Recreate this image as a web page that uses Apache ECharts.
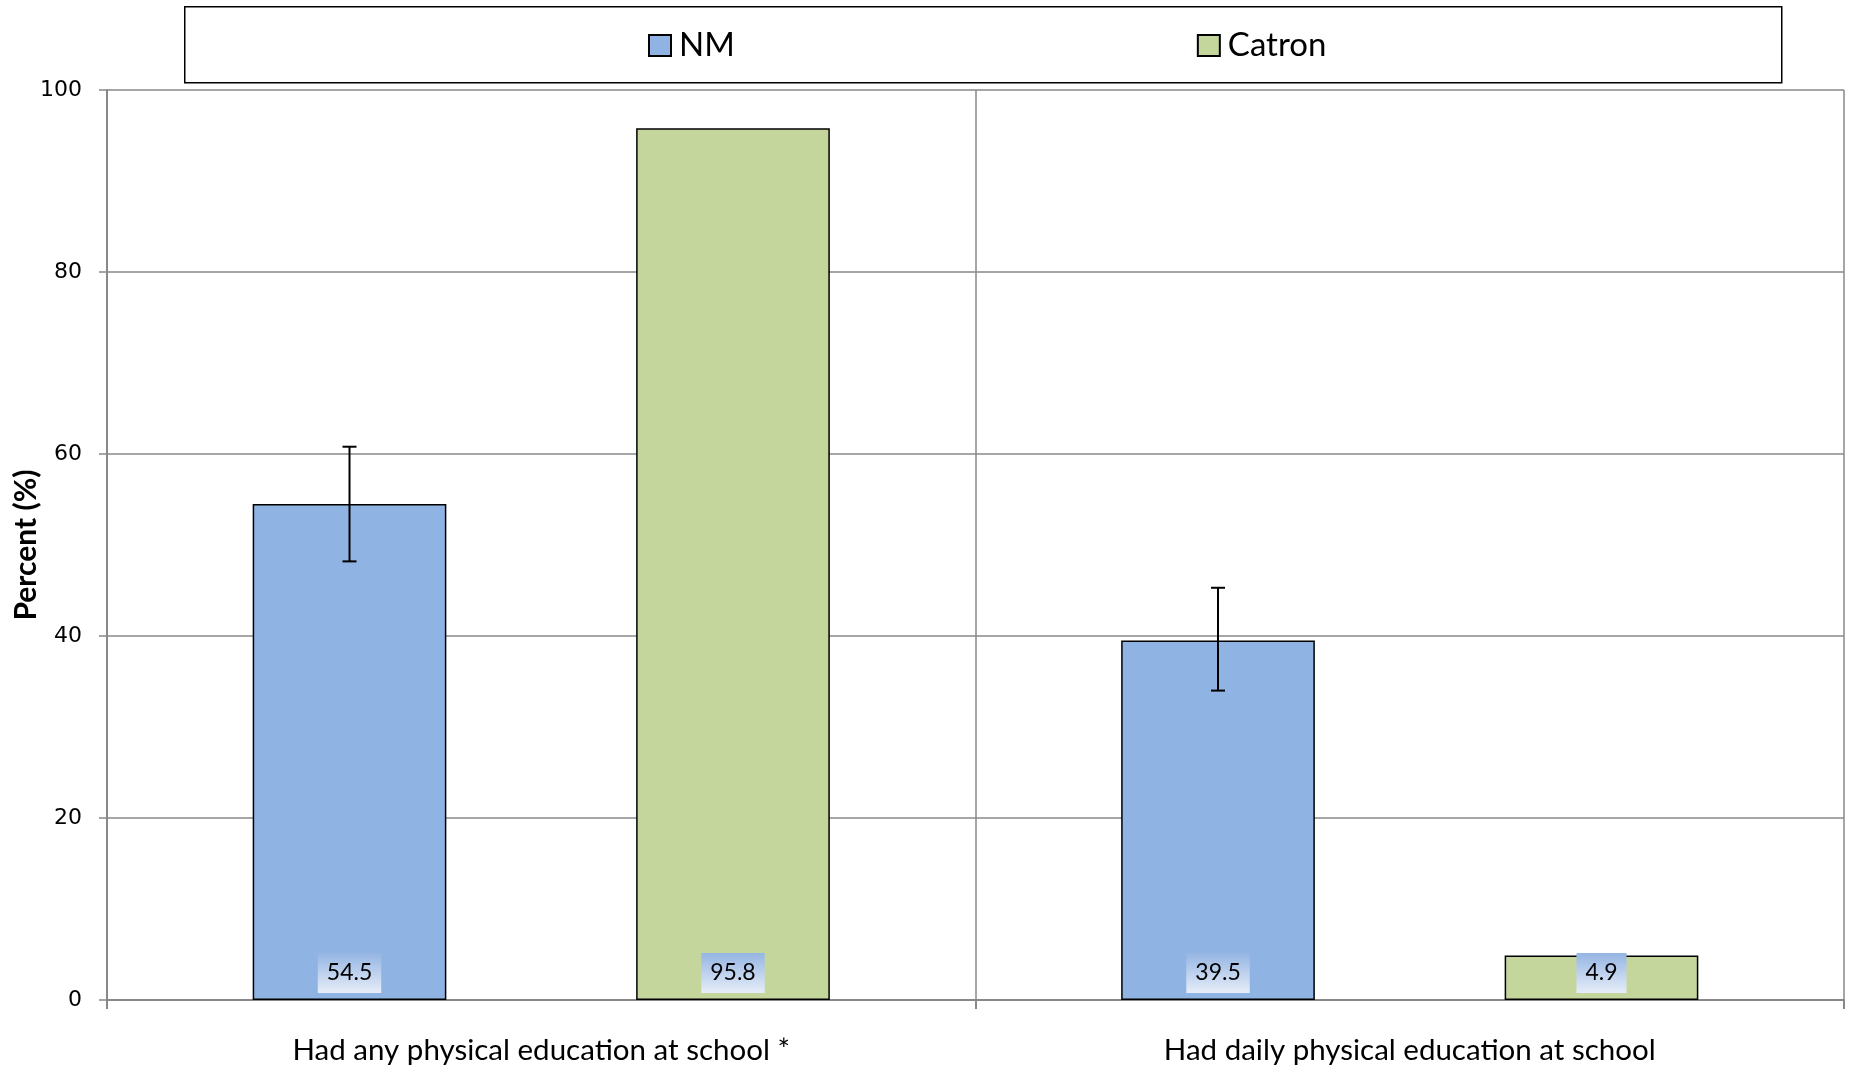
<!DOCTYPE html>
<html>
<head>
<meta charset="utf-8">
<script src="https://cdn.jsdelivr.net/npm/echarts@6/dist/echarts.min.js"></script>
<style>
html,body{margin:0;padding:0;background:#fff;}
#chart{width:1851px;height:1069px;}
</style>
</head>
<body>
<div id="chart"></div>
<script>
var categories = ['Had any physical education at school *', 'Had daily physical education at school'];
var seriesNames = ['NM', 'Catron'];
var nmValues = [54.5, 39.5];
var catronValues = [95.8, 4.9];
var nmErrLow = [48.2, 34.0];
var nmErrHigh = [60.8, 45.3];
var yTicks = [0, 20, 40, 60, 80, 100];

var FONT = 'Lato, "Open Sans", sans-serif';
var BAR_W = 0.223, BAR_GAP = 0.98;
var labelBg = new echarts.graphic.LinearGradient(0, 0, 0, 1, [
  {offset: 0, color: '#95b5e3'},
  {offset: 1, color: '#e6edf8'}
]);
var dataLabel = {
  show: true,
  position: 'insideBottom',
  distance: 7,
  color: '#000',
  fontFamily: FONT,
  fontSize: 23,
  lineHeight: 26,
  padding: [7, 9],
  backgroundColor: labelBg,
  formatter: function (p) { return p.value.toFixed(1); }
};

var errData = nmValues.map(function (v, i) { return [i, nmErrLow[i], nmErrHigh[i]]; });

var chart = echarts.init(document.getElementById('chart'), null, {renderer: 'canvas'});
chart.setOption({
  animation: false,
  backgroundColor: '#fff',
  graphic: [{
    type: 'rect', left: 184, top: 6, z: -1,
    shape: {width: 1597, height: 76},
    style: {fill: '#fff', stroke: '#000', lineWidth: 1.5}
  }],
  legend: {
    data: seriesNames,
    left: 643, top: 24,
    itemGap: 462,
    itemWidth: 22, itemHeight: 21,
    icon: 'rect',
    textStyle: {fontFamily: FONT, fontSize: 33, color: '#000', padding: [0, 0, 0, 3]}
  },
  grid: {left: 107, right: 7, top: 90, bottom: 69, containLabel: false, outerBoundsMode: 'none'},
  xAxis: {
    type: 'category',
    data: categories,
    axisLine: {show: true, lineStyle: {color: '#888', width: 2}},
    axisTick: {show: true, length: 9, interval: 0, lineStyle: {color: '#888', width: 2}},
    splitLine: {show: true, interval: 0, lineStyle: {color: '#888', width: 1.5}},
    axisLabel: {fontFamily: FONT, fontSize: 29.5, color: '#000', margin: 35, interval: 0}
  },
  yAxis: {
    type: 'value',
    min: 0, max: 100, interval: 20,
    name: 'Percent (%)',
    nameLocation: 'middle',
    nameGap: 66,
    nameMoveOverlap: false,
    nameTextStyle: {fontFamily: FONT, fontSize: 30, fontWeight: 'bold', color: '#000'},
    axisLine: {show: true, lineStyle: {color: '#888', width: 2}},
    axisTick: {show: true, length: 8, lineStyle: {color: '#888', width: 1.5}},
    splitLine: {show: true, lineStyle: {color: '#888', width: 1.5}},
    axisLabel: {fontFamily: '"DejaVu Sans", sans-serif', fontSize: 22, color: '#000', margin: 25,
      formatter: function (v) { return yTicks.indexOf(v) >= 0 ? String(v) : ''; }}
  },
  series: [
    {
      name: seriesNames[0], type: 'bar', data: nmValues,
      barWidth: (BAR_W * 100) + '%', barGap: (BAR_GAP * 100) + '%',
      itemStyle: {color: '#8fb3e2', borderColor: '#000', borderWidth: 1.5},
      label: dataLabel, z: 2
    },
    {
      name: seriesNames[1], type: 'bar', data: catronValues,
      barWidth: (BAR_W * 100) + '%', barGap: (BAR_GAP * 100) + '%',
      itemStyle: {color: '#c4d69c', borderColor: '#000', borderWidth: 1.5},
      label: dataLabel, z: 2
    },
    {
      name: 'err', type: 'custom', data: errData, z: 5,
      renderItem: function (params, api) {
        var x = api.value(0);
        var lo = api.coord([x, api.value(1)]);
        var hi = api.coord([x, api.value(2)]);
        var band = api.size([1, 0])[0];
        var cx = lo[0] - band * BAR_W * (1 + BAR_GAP) / 2;
        var cap = 7;
        var st = {stroke: '#000', lineWidth: 2};
        return {type: 'group', children: [
          {type: 'line', shape: {x1: cx, y1: hi[1], x2: cx, y2: lo[1]}, style: st},
          {type: 'line', shape: {x1: cx - cap, y1: hi[1], x2: cx + cap, y2: hi[1]}, style: st},
          {type: 'line', shape: {x1: cx - cap, y1: lo[1], x2: cx + cap, y2: lo[1]}, style: st}
        ]};
      }
    }
  ]
});
</script>
</body>
</html>
